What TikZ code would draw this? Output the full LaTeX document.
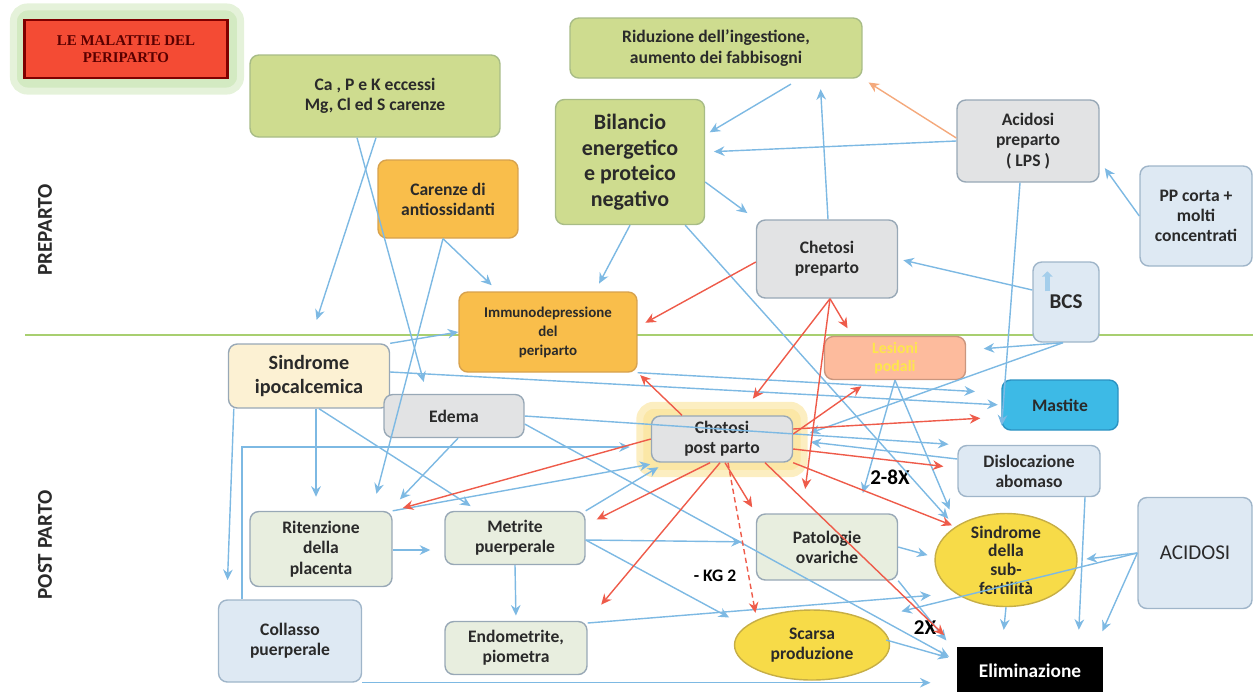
\documentclass[tikz,border=0pt]{standalone}
\usepackage{fontspec}
\setmainfont{Carlito}
\newfontfamily\titlefont{Liberation Serif}
\usetikzlibrary{arrows.meta,calc,shapes.geometric,backgrounds}

\definecolor{leafgreen}{HTML}{CEDC8F}
\definecolor{leafline}{HTML}{A8BC86}
\definecolor{amber}{HTML}{F9BE4B}
\definecolor{amberline}{HTML}{D7A24E}
\definecolor{greyfill}{HTML}{E2E3E4}
\definecolor{greyline}{HTML}{98A8B6}
\definecolor{skyfill}{HTML}{DEE9F3}
\definecolor{skyline}{HTML}{9FB5C9}
\definecolor{cream}{HTML}{FCF1D3}
\definecolor{sage}{HTML}{E8EEDF}
\definecolor{teal}{HTML}{3DBAE6}
\definecolor{tealline}{HTML}{2B92C2}
\definecolor{salmon}{HTML}{FDBB9D}
\definecolor{yolk}{HTML}{F7DB48}
\definecolor{yolkline}{HTML}{C6AE46}
\definecolor{arrowblue}{HTML}{7DB9E3}
\definecolor{arrowred}{HTML}{EE5B4A}
\definecolor{arroworange}{HTML}{F4A97C}
\definecolor{divgreen}{HTML}{A8CF70}
\definecolor{inkgrey}{HTML}{2A2A2A}
\definecolor{titlered}{HTML}{F44B34}
\definecolor{glowgreen}{HTML}{D3EAC2}
\definecolor{glowyellow}{HTML}{FBE7A6}

\begin{document}
\begin{tikzpicture}[
    x=0.02cm, y=-0.02cm,
    >={Stealth[length=6pt,width=5.5pt,inset=2pt]},
    % Define styles for the boxes
    box/.style={rectangle, draw=greyline, line width=0.8pt, rounded corners=5pt, align=center, inner sep=0pt, text=inkgrey, font=\bfseries\fontsize{10}{11.5}\selectfont},
    greenbox/.style={box, fill=leafgreen, draw=leafline},
    orangebox/.style={box, fill=amber, draw=amberline},
    greybox/.style={box, fill=greyfill},
    skybox/.style={box, fill=skyfill, draw=skyline},
    sagebox/.style={box, fill=sage},
    oval/.style={ellipse, draw=yolkline, line width=0.8pt, fill=yolk, inner sep=0pt},
    titlebox/.style={rectangle, fill=titlered, draw=red!50!black, line width=1.2pt, align=center, text=red!35!black, font=\titlefont\bfseries\fontsize{8.5}{10}\selectfont, minimum width=4.06cm, minimum height=1.16cm},
    glow/.style={rounded corners=8pt, line width=4pt},
    section/.style={rotate=90, text=inkgrey, font=\bfseries\fontsize{12}{14}\selectfont},
    tag/.style={text=black, font=\bfseries\fontsize{12}{14}\selectfont},
    arrow/.style={->, line width=0.8pt, draw=arrowblue},
    redarrow/.style={->, line width=0.8pt, draw=arrowred},
    divider/.style={line width=1pt, draw=divgreen}
]
\useasboundingbox (0,0) rectangle (1253,691);

% ==========================================
% Title and phase labels
% ==========================================
\node[titlebox] (title) at (126,49) {LE MALATTIE DEL\\PERIPARTO};
\begin{scope}[on background layer]
    \filldraw[glow, fill=glowgreen, draw=glowgreen!60] ($(title.north west)+(-10,-12)$) rectangle ($(title.south east)+(12,12)$);
\end{scope}
\node[section] (pre) at (45,230) {PREPARTO};
\node[section] (post) at (45,545) {POST PARTO};
\coordinate (divL) at (25,335);
\coordinate (divR) at (1253,335);
\draw[divider] (divL) -- (divR);

% ==========================================
% Preparto boxes
% ==========================================
\node[greenbox, minimum width=5cm, minimum height=1.64cm] (ca) at (375,96) {Ca , P e K eccessi\\Mg, Cl ed S carenze};
\node[greenbox, minimum width=5.84cm, minimum height=1.2cm] (rid) at (716,48) {Riduzione dell'ingestione,\\aumento dei fabbisogni};
\node[greenbox, minimum width=2.98cm, minimum height=2.5cm, font=\bfseries\fontsize{12.5}{14.5}\selectfont] (bil) at (630,162) {Bilancio\\energetico\\e proteico\\negativo};
\node[orangebox, minimum width=2.8cm, minimum height=1.56cm] (car) at (448,199) {Carenze di\\antiossidanti};
\node[greybox, minimum width=2.84cm, minimum height=1.64cm] (acp) at (1028,141) {Acidosi\\preparto\\( LPS )};
\node[skybox, minimum width=2.24cm, minimum height=2cm] (ppc) at (1196,216) {PP corta +\\molti\\concentrati};
\node[greybox, minimum width=2.82cm, minimum height=1.56cm] (chp) at (827,259) {Chetosi\\preparto};
\node[skybox, minimum width=1.32cm, minimum height=1.6cm, font=\bfseries\fontsize{12}{14}\selectfont] (bcs) at (1066,302) {BCS};
\draw[line width=3pt, draw=arrowblue!70, -{Triangle[length=3pt,width=6pt]}] ($(bcs.north west)+(15,30)$) -- ++(0,-20);
\node[orangebox, minimum width=3.56cm, minimum height=1.6cm, font=\bfseries\fontsize{8.5}{10.8}\selectfont] (imm) at (548,332) {Immunodepressione\\del\\periparto};

% ==========================================
% Post parto boxes
% ==========================================
\node[box, fill=salmon, draw=salmon!80!black, text=yellow!80!orange!70, minimum width=2.82cm, minimum height=0.86cm, font=\bfseries\fontsize{9}{10.5}\selectfont] (les) at (895,358) {Lesioni\\podali};
\node[box, fill=cream, minimum width=3.22cm, minimum height=1.28cm, font=\bfseries\fontsize{11.5}{13.5}\selectfont] (sip) at (309,376) {Sindrome\\ipocalcemica};
\node[greybox, minimum width=2.8cm, minimum height=0.86cm] (ede) at (454,416) {Edema};
\node[box, fill=teal, draw=tealline, minimum width=2.32cm, minimum height=1cm] (mas) at (1060,405) {Mastite};
\node[greybox, minimum width=2.82cm, minimum height=0.92cm] (chpp) at (722,439) {Chetosi\\post parto};
\begin{scope}[on background layer]
    \filldraw[glow, fill=glowyellow, draw=glowyellow!70] ($(chpp.north west)+(-11,-10)$) rectangle ($(chpp.south east)+(11,11)$);
\end{scope}
\node[skybox, minimum width=2.84cm, minimum height=1.02cm] (dis) at (1029,471) {Dislocazione\\abomaso};
\node[sagebox, minimum width=2.84cm, minimum height=1.5cm] (rit) at (321,549) {Ritenzione\\della\\placenta};
\node[sagebox, minimum width=2.8cm, minimum height=1.06cm] (met) at (515,538) {Metrite\\puerperale};
\node[sagebox, minimum width=2.82cm, minimum height=1.32cm] (pat) at (827,547) {Patologie\\ovariche};
\node[oval, minimum width=2.84cm, minimum height=1.86cm, label={[align=center, text=inkgrey, font=\bfseries\fontsize{10}{10.6}\selectfont]center:Sindrome\\della\\sub-\\fertilità}] (sub) at (1006,560) {};
\node[skybox, minimum width=2.28cm, minimum height=2.22cm, font=\fontsize{12}{14}\selectfont] (aci) at (1195,553) {ACIDOSI};
\node[skybox, minimum width=2.86cm, minimum height=1.64cm] (col) at (290,641) {Collasso\\puerperale};
\node[sagebox, minimum width=2.84cm, minimum height=1.06cm] (end) at (516,648) {Endometrite,\\piometra};
\node[oval, minimum width=3.1cm, minimum height=1.4cm, label={[align=center, text=inkgrey, font=\bfseries\fontsize{10}{11.5}\selectfont]center:Scarsa\\produzione}] (sca) at (812,645) {};
\node[box, fill=black, draw=black, text=white, rounded corners=0pt, minimum width=2.9cm, minimum height=0.92cm, font=\bfseries\fontsize{11}{13}\selectfont] (eli) at (1030,671) {Eliminazione};

\node[tag] (x28) at (890,477) {2-8X};
\node[tag, font=\bfseries\fontsize{10}{12}\selectfont] (kg2) at (715,576) {- KG 2};
\node[tag] (x2) at (925,628) {2X};

% ==========================================
% Blue links (preparto)
% ==========================================
\draw[arrow, shorten >=14pt] ($(ca.south)+(1,0)$) -- (sip.north);
\draw[arrow, shorten >=7pt] ($(ca.south)+(-18,0)$) -- ($(ede.north)+(-27,0)$);
\draw[arrow, shorten >=5pt] ($(car.south)+(-5,0)$) -- ($(imm.north)+(-50,0)$);
\draw[arrow, shorten >=10pt] ($(car.south)+(-5,0)$) -- ($(rit.north)+(51,0)$);
\draw[arrow, shorten >=5pt] (bil.south) -- ($(imm.north)+(47,0)$);
\draw[arrow, shorten >=6pt] ($(bil.east)+(0,20)$) -- (chp.north west);
\draw[arrow, shorten <=6pt, shorten >=3pt] ($(rid.south)+(84,0)$) -- ($(bil.east)+(0,-27)$);
\draw[arrow, shorten >=5pt] (acp.west) -- ($(bil.east)+(0,-10)$);
\draw[->, line width=0.8pt, draw=arroworange, shorten >=4pt] ($(acp.west)+(0,-3)$) -- (rid.south east);
\draw[arrow, shorten >=6pt] ($(chp.north)+(1,0)$) -- ($(rid.south)+(104,0)$);
\draw[arrow, shorten >=5pt] (ppc.west) -- ($(acp.east)+(0,20)$);
\draw[arrow, shorten >=3pt] ($(bcs.west)+(0,-12)$) -- (chp.east);
\draw[arrow, shorten >=10pt] ($(bcs.south)+(-3,0)$) -- ($(les.east)+(0,-8)$);
\draw[arrow, shorten >=10pt] ($(bcs.south)+(-3,0)$) -- (chpp.east);
\draw[arrow, shorten >=3pt] ($(acp.south)+(-8,0)$) -- (mas.south west);
\draw[arrow, shorten >=6pt] ($(bil.south east)+(-20,0)$) -- (sub.north west);

% ==========================================
% Blue links (post parto)
% ==========================================
\draw[arrow] (sip.north east) -- (imm.west);
\draw[arrow, shorten >=2pt] ($(sip.east)+(0,-4)$) -- (mas.west);
\draw[arrow, shorten >=15pt] (imm.south east) -- ($(mas.west)+(0,-12)$);
\draw[arrow, shorten >=5pt] (ede.east) -- (dis.north west);
\draw[arrow, shorten >=8pt] ($(sip.south)+(7,0)$) -- ($(rit.north)+(-5,0)$);
\draw[arrow, shorten >=5pt] ($(sip.south)+(10,0)$) -- ($(met.north)+(-37,0)$);
\draw[arrow, shorten >=11pt] ($(sip.south west)+(6,0)$) -- ($(col.north west)+(9,0)$);
\draw[arrow, shorten >=12pt] ($(col.north west)+(24,0)$) |- ($(chpp.west)+(0,8)$);
\draw[arrow, shorten >=15pt] (col.south east) -- (col.south east -| eli.west);
\draw[arrow, shorten >=9pt] ($(ede.south)+(4,0)$) -- ($(rit.north)+(68,0)$);
\draw[arrow, shorten >=5pt] ($(ede.east)+(0,8)$) -- ($(eli.west)+(0,-10)$);
\draw[arrow, shorten >=8pt] ($(rit.east)+(0,1)$) -- ($(met.west)+(0,12)$);
\draw[arrow, shorten >=5pt] (rit.north east) -- ($(chpp.south west)+(8,0)$);
\draw[arrow, shorten >=5pt] (met.north east) -- ($(chpp.south west)+(15,0)$);
\draw[arrow, shorten >=8pt] ($(met.east)+(0,2)$) -- ($(pat.west)+(0,-5)$);
\draw[arrow, shorten >=3pt] ($(met.east)+(0,2)$) -- ($(sca.west)+(0,-25)$);
\draw[arrow, shorten >=3pt] (met.south) -- (end.north);
\draw[arrow, shorten >=14pt] ($(end.east)+(0,-25)$) -- (sub.south west);
\draw[arrow, shorten >=4pt] (pat.east) -- ($(sub.west)+(0,-3)$);
\draw[arrow, shorten >=5pt] (pat.south east) -- ($(eli.north west)+(-5,0)$);
\draw[arrow, shorten >=5pt] ($(sca.east)+(-4,-5)$) -- ($(eli.west)+(0,-11)$);
\draw[arrow, shorten >=10pt] (sub.south) -- ($(eli.north)+(-28,0)$);
\draw[arrow, shorten >=10pt] ($(dis.south)+(56,0)$) -- ($(eli.north)+(48,0)$);
\draw[arrow, shorten >=5pt] (aci.west) -- (sub.east);
\draw[arrow, shorten >=10pt] (aci.west) -- ($(eli.north east)+(-8,0)$);
\draw[arrow, shorten >=20pt] (aci.west) -- (sca.north east);
\draw[arrow, shorten >=10pt] ($(dis.west)+(0,-12)$) -- ($(chpp.east)+(0,1)$);
\draw[arrow, shorten >=12pt] (les.south) -- ($(pat.north)+(30,0)$);
\draw[arrow, shorten >=2pt] (les.south) -- ($(sub.north)+(-55,0)$);

% ==========================================
% Red links from the two ketosis boxes
% ==========================================
\draw[redarrow, shorten >=5pt] ($(chp.west)+(0,3)$) -- ($(imm.east)+(0,-5)$);
\draw[redarrow, shorten >=12pt] ($(chp.south)+(3,0)$) -- ($(chpp.north)+(18,0)$);
\draw[redarrow, shorten >=5pt] ($(chp.south)+(3,0)$) -- ($(les.north)+(-43,0)$);
\draw[redarrow, shorten >=14pt] ($(chp.south)+(3,0)$) -- ($(pat.north)+(-25,0)$);
\draw[redarrow, shorten >=2pt] ($(chpp.north)+(-40,0)$) -- (imm.south east);
\draw[redarrow, shorten >=6pt] ($(chpp.east)+(0,-5)$) -- ($(les.south)+(-25,0)$);
\draw[redarrow, shorten >=12pt] ($(chpp.east)+(0,-10)$) -- ($(mas.west)+(0,12)$);
\draw[redarrow, shorten >=8pt] ($(chpp.east)+(0,10)$) -- ($(dis.west)+(0,-3)$);
\draw[redarrow, shorten >=2pt] (chpp.south east) -- (sub.north west);
\draw[redarrow, shorten >=10pt] ($(chpp.south)+(43,0)$) -- (eli.north west);
\draw[redarrow, shorten >=6pt] (chpp.west) -- (rit.north east);
\draw[redarrow, shorten >=7pt] ($(chpp.south)+(-12,0)$) -- ($(met.east)+(0,-13)$);
\draw[redarrow, shorten >=12pt] ($(chpp.south)+(-2,0)$) -- (end.north east);
\draw[redarrow, shorten >=4pt] ($(chpp.south)+(3,0)$) -- (pat.north west);
\draw[redarrow, densely dashed, shorten >=4pt] ($(chpp.south)+(6,0)$) -- (sca.north west);

\end{tikzpicture}
\end{document}
